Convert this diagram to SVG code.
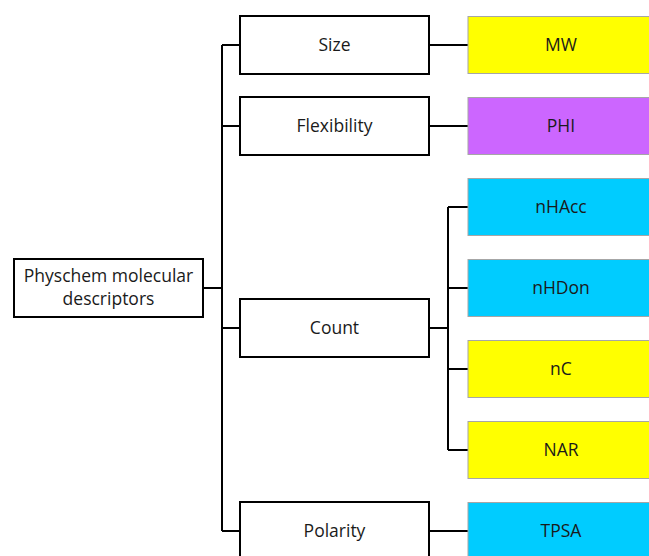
<svg xmlns="http://www.w3.org/2000/svg" width="649" height="556" viewBox="0 0 649 556">
<style>
.l2{fill:#fff;stroke:#000;stroke-width:2}
.l3{stroke:#a6a6a6;stroke-width:1}
.y{fill:#ffff00}.p{fill:#cc66ff}.c{fill:#00ccff}
text{font-family:"Open Sans","Liberation Sans",sans-serif;font-size:17.5px;fill:#1a1a1a;text-anchor:middle;dominant-baseline:central}
.cn{fill:none;stroke:#000;stroke-width:2}
</style>
<rect width="649" height="556" fill="#fff"/>
<g id="connectors" class="cn">
<path d="M203 288H222M222 45V531M222 45H240M222 126H240M222 328H240M222 531H240"/>
<path d="M429 45H468M429 126H468M429 531H468"/>
<path d="M429 328H448M448 207V450M448 207H468M448 288H468M448 369H468M448 450H468"/>
</g>
<g id="root"><rect class="l2" x="14" y="259" width="189" height="58"/><text x="108.5" y="275">Physchem molecular</text><text x="108.5" y="298">descriptors</text></g>
<g id="size"><rect class="l2" x="240" y="16" width="189" height="58"/><text x="334.5" y="44">Size</text></g>
<g id="flexibility"><rect class="l2" x="240" y="97" width="189" height="58"/><text x="334.5" y="125">Flexibility</text></g>
<g id="count"><rect class="l2" x="240" y="299" width="189" height="58"/><text x="334.5" y="327">Count</text></g>
<g id="polarity"><rect class="l2" x="240" y="502" width="189" height="70"/><text x="334.5" y="530">Polarity</text></g>
<g id="mw"><rect class="l3 y" x="468" y="16.5" width="200" height="57"/><text x="561" y="44">MW</text></g>
<g id="phi"><rect class="l3 p" x="468" y="97.5" width="200" height="57"/><text x="561" y="125">PHI</text></g>
<g id="nhacc"><rect class="l3 c" x="468" y="178.5" width="200" height="57"/><text x="561" y="206">nHAcc</text></g>
<g id="nhdon"><rect class="l3 c" x="468" y="259.5" width="200" height="57"/><text x="561" y="287">nHDon</text></g>
<g id="nc"><rect class="l3 y" x="468" y="340.5" width="200" height="57"/><text x="561" y="368">nC</text></g>
<g id="nar"><rect class="l3 y" x="468" y="421.5" width="200" height="57"/><text x="561" y="449">NAR</text></g>
<g id="tpsa"><rect class="l3 c" x="468" y="502.5" width="200" height="70"/><text x="561" y="530">TPSA</text></g>
</svg>
